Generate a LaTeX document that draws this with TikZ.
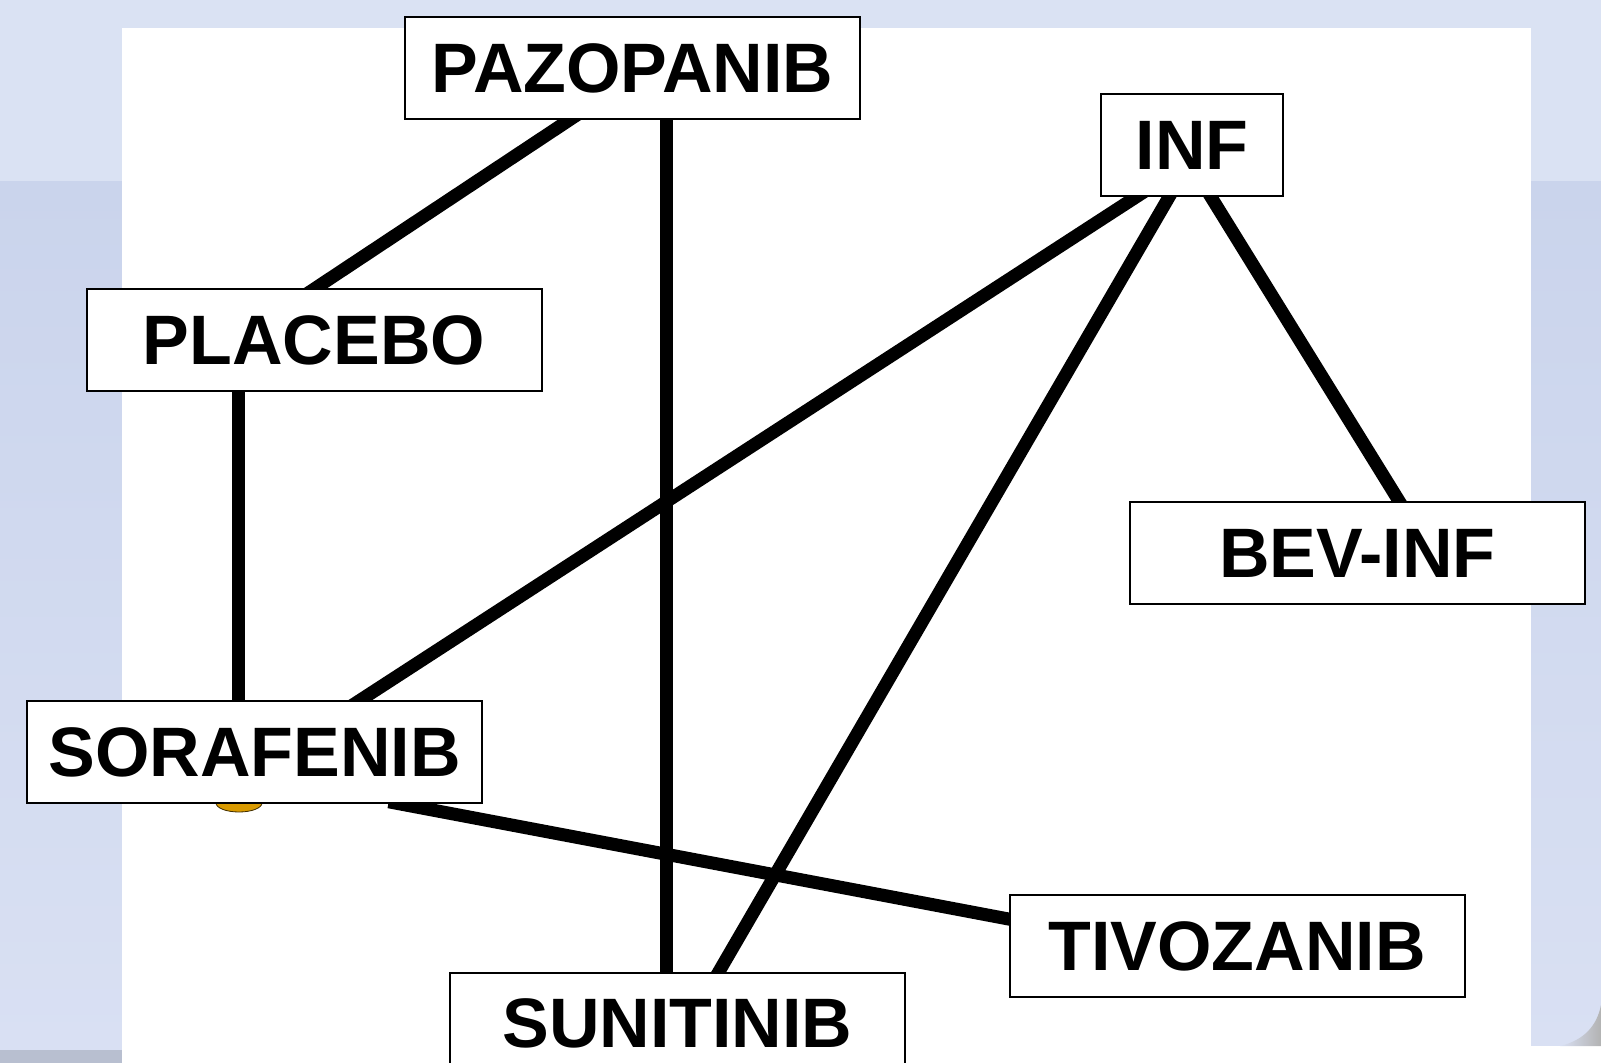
\documentclass[tikz,border=0pt]{standalone}
\usepackage{fontspec}
\setmainfont{Liberation Sans}
\usetikzlibrary{calc}
\definecolor{bgtop}{HTML}{DAE2F3}
\definecolor{bgband}{HTML}{CAD4EC}
\definecolor{bglow}{HTML}{D9E0F3}
\definecolor{bgbottom}{HTML}{B8BFD0}
\definecolor{blob}{HTML}{D99A00}
\pgfdeclarelayer{back}
\pgfdeclarelayer{lines}
\pgfsetlayers{back,lines,main}
\tikzset{
  drug/.style={draw=black, line width=1pt, fill=white, inner sep=0pt,
    minimum width=227.5pt, minimum height=51pt,
    font=\fontsize{35pt}{40pt}\selectfont\bfseries},
  link/.style={line width=6.5pt, black, shorten <=-6pt, shorten >=-6pt}
}
\begin{document}
\begin{tikzpicture}[x=0.5pt, y=-0.5pt]
\useasboundingbox (0,0) rectangle (1601,1063);
\begin{pgfonlayer}{back}
  \fill[bgtop] (0,0) rectangle (1601,1063);
  \shade[top color=bgband, bottom color=bglow] (0,182) rectangle (1601,1050);
  \fill[bgbottom] (0,1050) rectangle (122,1063);
  \fill[white] (122,28) rectangle (1531,1063);
  \fill[white] (1531,1046) rectangle (1601,1063);
  \shade[left color=bglow, right color=gray!60] (1560,1046) .. controls (1585,1040) and (1597,1025) .. (1601,1005) -- (1601,1046) -- cycle;
  \fill[blob, draw=black!70!blob] (239,803) ellipse [x radius=23, y radius=9];
\end{pgfonlayer}

\node[drug] (paz) at (632.5,68.5) {PAZOPANIB};
\node[drug, minimum width=91pt] (inf) at (1192,145) {INF};
\node[drug] (pla) at (314,340.5) {PLACEBO};
\node[drug] (bev) at (1357.5,553) {BEV-INF};
\node[drug] (sor) at (254.5,752) {SORAFENIB};
\node[drug] (tiv) at (1237,946) {TIVOZANIB};
\node[drug] (sun) at (677.5,1023.5) {SUNITINIB};

\begin{pgfonlayer}{lines}
  \draw[link] ($(paz.south)+(-64,0)$) -- ($(pla.north)+(1,0)$);
  \draw[link] ($(paz.south)+(33.5,0)$) -- ($(sun.north)+(-11.5,0)$);
  \draw[link] ($(inf.south)+(-56,0)$) -- ($(sor.north)+(106,0)$);
  \draw[link] ($(inf.south)+(-23,0)$) -- ($(sun.north)+(41.5,0)$);
  \draw[link] ($(inf.south)+(19,0)$) -- ($(bev.north)+(41.5,0)$);
  \draw[link] ($(pla.south)+(-76,0)$) -- ($(sor.north)+(-16.5,0)$);
  \draw[link] ($(sor.south)+(146,0)$) -- ($(tiv.west)+(0,-27)$);
\end{pgfonlayer}
\end{tikzpicture}
\end{document}
